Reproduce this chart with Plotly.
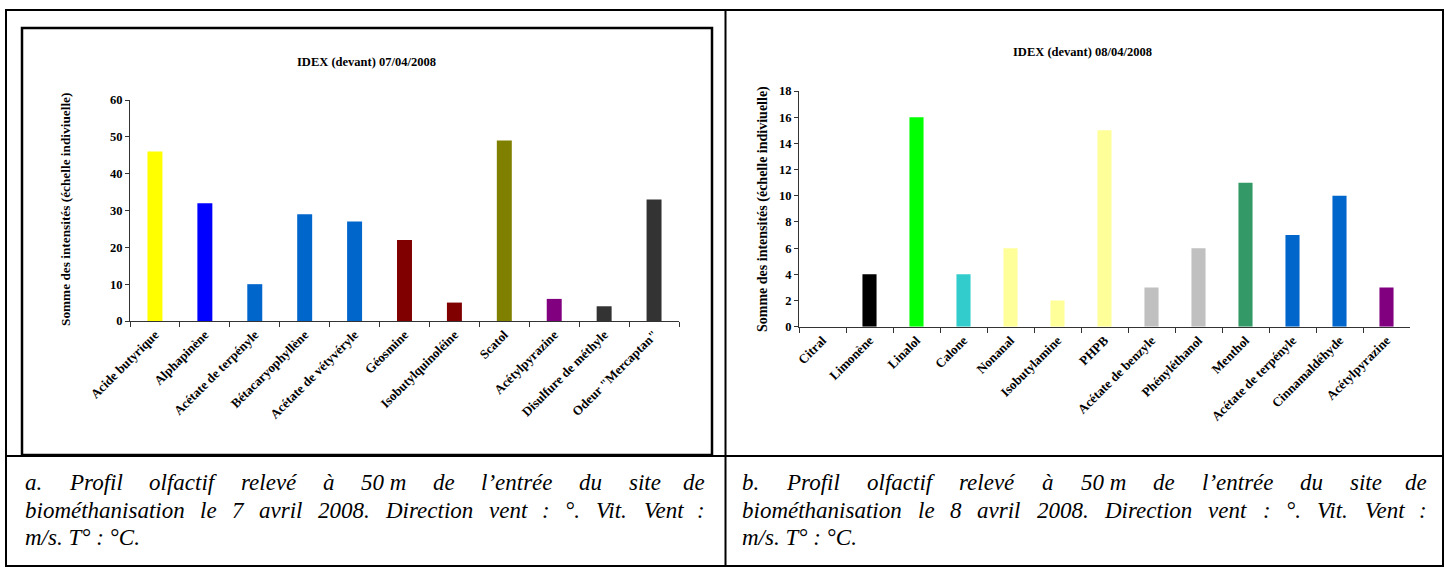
import plotly.graph_objects as go

W, H = 1445, 567

# ---- data: profile of 07/04/2008 ----
cats_a = ["Acide butyrique", "Alphapinène", "Acétate de terpényle", "Bétacaryophyllène",
          "Acétate de vétyvéryle", "Géosmine", "Isobutylquinoléine", "Scatol",
          "Acétylpyrazine", "Disulfure de méthyle", "Odeur \"Mercaptan\""]
vals_a = [46, 32, 10, 29, 27, 22, 5, 49, 6, 4, 33]
colors_a = ["#FFFF00", "#0000FF", "#0066CC", "#0066CC", "#0066CC", "#800000", "#800000",
            "#808000", "#800080", "#333333", "#333333"]
ticks_a = [0, 10, 20, 30, 40, 50, 60]

# ---- data: profile of 08/04/2008 ----
cats_b = ["Citral", "Limonène", "Linalol", "Calone", "Nonanal", "Isobutylamine", "PHPB",
          "Acétate de benzyle", "Phényléthanol", "Menthol", "Acétate de terpényle",
          "Cinnamaldéhyde", "Acétylpyrazine"]
vals_b = [0, 4, 16, 4, 6, 2, 15, 3, 6, 11, 7, 10, 3]
colors_b = ["#000000", "#000000", "#00FF00", "#33CCCC", "#FFFF99", "#FFFF99", "#FFFF99",
            "#C0C0C0", "#C0C0C0", "#339966", "#0066CC", "#0066CC", "#800080"]
ticks_b = [0, 2, 4, 6, 8, 10, 12, 14, 16, 18]

title_a = "IDEX (devant) 07/04/2008"
title_b = "IDEX (devant) 08/04/2008"
ytitle = "Somme des intensités (échelle indiviuelle)"

caption_a = [
    "a. Profil olfactif relevé à 50\u00a0m de l’entrée du site de",
    "biométhanisation le 7 avril 2008. Direction vent : °. Vit. Vent :",
    "m/s. T° : °C.",
]
caption_b = [
    "b. Profil olfactif relevé à 50\u00a0m de l’entrée du site de",
    "biométhanisation le 8 avril 2008. Direction vent : °. Vit. Vent :",
    "m/s. T° : °C.",
]

SERIF = "Liberation Serif"


def px(x):
    return x / W


def py(y):
    return 1 - y / H


fig = go.Figure()
fig.add_trace(go.Bar(x=cats_a, y=vals_a, marker=dict(color=colors_a, line=dict(width=0)),
                     xaxis="x", yaxis="y", showlegend=False))
fig.add_trace(go.Bar(x=cats_b, y=vals_b, marker=dict(color=colors_b, line=dict(width=0)),
                     xaxis="x2", yaxis="y2", showlegend=False))

common_x = dict(type="category", showline=True, linecolor="#333333", linewidth=1,
                ticks="outside", tickson="boundaries", ticklen=5, tickcolor="#333333",
                tickangle=-45, showgrid=False, zeroline=False, automargin=False)
common_y = dict(showline=True, linecolor="#333333", linewidth=1, ticks="outside",
                ticklen=4, tickcolor="#333333",
                tickfont=dict(family=SERIF, size=12.5, color="black", weight="bold"),
                showgrid=False, zeroline=False, automargin=False)

fig.update_layout(
    width=W, height=H, autosize=False,
    margin=dict(l=0, r=0, t=0, b=0, pad=0, autoexpand=False),
    paper_bgcolor="white", plot_bgcolor="white",
    bargap=0.7,
    xaxis=dict(domain=[px(130), px(679)], anchor="y",
               tickfont=dict(family=SERIF, size=13, color="black", weight="bold"),
               **common_x),
    yaxis=dict(domain=[py(321), py(100)], anchor="x", range=[0, 60], tickvals=ticks_a,
               **common_y),
    xaxis2=dict(domain=[px(799), px(1410)], anchor="y2",
                tickfont=dict(family=SERIF, size=13, color="black", weight="bold"),
                **common_x),
    yaxis2=dict(domain=[py(326.7), py(91)], anchor="x2", range=[0, 18], tickvals=ticks_b,
                **common_y),
)

anns = []
# chart titles
anns.append(dict(text=title_a, x=px(366), y=py(62), xref="paper", yref="paper",
                 showarrow=False, xanchor="center", yanchor="middle",
                 font=dict(family=SERIF, size=12.5, color="black", weight="bold")))
anns.append(dict(text=title_b, x=px(1082), y=py(52), xref="paper", yref="paper",
                 showarrow=False, xanchor="center", yanchor="middle",
                 font=dict(family=SERIF, size=12.5, color="black", weight="bold")))
# y-axis titles
anns.append(dict(text=ytitle, x=px(65), y=py(210), xref="paper", yref="paper",
                 showarrow=False, textangle=-90, xanchor="center", yanchor="middle",
                 font=dict(family=SERIF, size=13.3, color="black", weight="bold")))
anns.append(dict(text=ytitle, x=px(763), y=py(209), xref="paper", yref="paper",
                 showarrow=False, textangle=-90, xanchor="center", yanchor="middle",
                 font=dict(family=SERIF, size=14, color="black", weight="bold")))

# Times-Italic advance widths (per 1000 em) used to justify caption lines
IT_W = {" ": 250, "\u00a0": 250, ".": 250, ":": 333, "°": 400, "’": 333, "/": 278,
        "a": 500, "b": 500, "c": 444, "d": 500, "e": 444, "f": 278, "g": 500, "h": 500,
        "i": 278, "j": 278, "k": 444, "l": 278, "m": 722, "n": 500, "o": 500, "p": 500,
        "q": 500, "r": 389, "s": 389, "t": 278, "u": 500, "v": 444, "w": 667, "x": 444,
        "y": 444, "z": 389, "é": 444, "à": 500, "è": 444,
        "C": 667, "D": 722, "P": 611, "T": 556, "V": 611}
CAP_SIZE = 23


def text_width(s, size):
    return sum(IT_W.get(c, 500) for c in s) * size / 1000


def caption_line(line, left, right, y, justify):
    font = dict(family=SERIF, size=CAP_SIZE, color="black", style="italic")
    out = []
    if not justify:
        out.append(dict(text=line, x=px(left), y=py(y), xref="paper", yref="paper",
                        showarrow=False, xanchor="left", yanchor="middle", font=font))
        return out
    words = line.split(" ")
    widths = [text_width(w, CAP_SIZE) for w in words]
    gap = (right - left - sum(widths)) / (len(words) - 1)
    x = left
    for i, (w, wd) in enumerate(zip(words, widths)):
        if i == len(words) - 1:
            out.append(dict(text=w, x=px(right), y=py(y), xref="paper", yref="paper",
                            showarrow=False, xanchor="right", yanchor="middle", font=font))
        else:
            out.append(dict(text=w, x=px(x), y=py(y), xref="paper", yref="paper",
                            showarrow=False, xanchor="left", yanchor="middle", font=font))
        x += wd + gap
    return out


line_ys = [482, 510, 537]
for i, (la, lb) in enumerate(zip(caption_a, caption_b)):
    justify = i < 2
    anns += caption_line(la, 23, 707, line_ys[i], justify)
    anns += caption_line(lb, 740, 1429, line_ys[i], justify)

fig.update_layout(annotations=anns)

# table rules and chart frame
shapes = []
line_k = dict(color="black", width=2)
shapes.append(dict(type="rect", xref="paper", yref="paper", x0=px(6), x1=px(1443),
                   y0=py(566), y1=py(10), line=line_k))
shapes.append(dict(type="line", xref="paper", yref="paper", x0=px(725.5), x1=px(725.5),
                   y0=py(566), y1=py(10), line=line_k))
shapes.append(dict(type="line", xref="paper", yref="paper", x0=px(6), x1=px(1443),
                   y0=py(456), y1=py(456), line=line_k))
shapes.append(dict(type="rect", xref="paper", yref="paper", x0=px(22), x1=px(712),
                   y0=py(455), y1=py(28), line=dict(color="black", width=2.5)))
fig.update_layout(shapes=shapes)

fig.write_html("out.html")
